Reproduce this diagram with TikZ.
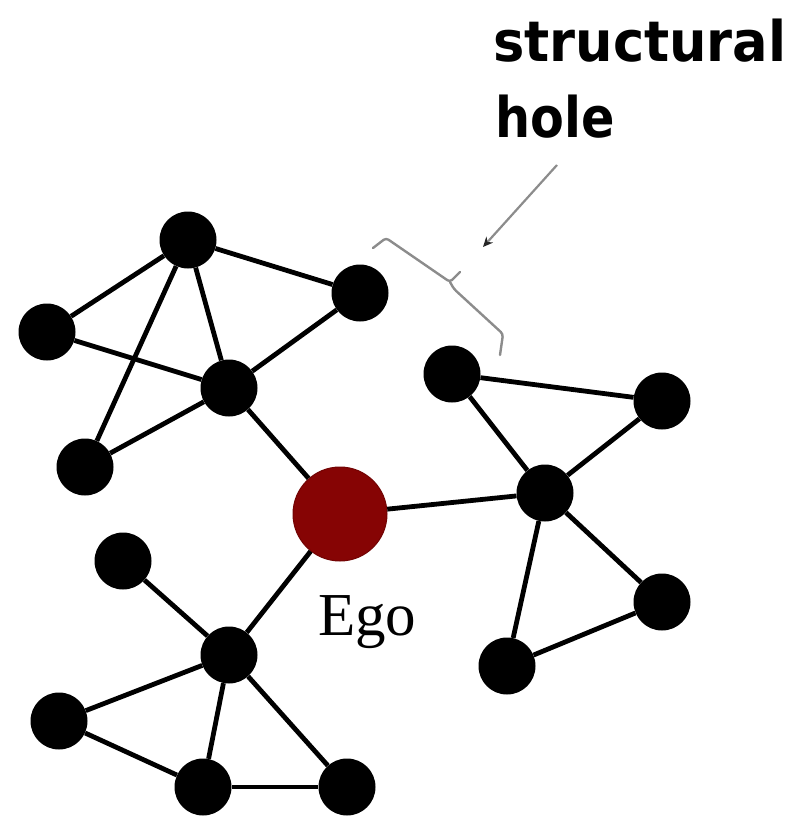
\documentclass[tikz,border=0pt]{standalone}
\usepackage{fontspec}
\setmainfont{Liberation Serif}
\newfontfamily\labelfont{DejaVu Sans}
\usetikzlibrary{arrows.meta}
\definecolor{egored}{RGB}{134,4,4}
\definecolor{bracegray}{RGB}{140,140,140}
\tikzset{
  vtx/.style={circle,fill=black,inner sep=0pt,minimum size=57pt},
  egovtx/.style={circle,fill=egored,draw=egored!85!black,line width=1pt,inner sep=0pt,minimum size=94pt},
  link/.style={line width=4.8pt,black},
  bracestyle/.style={draw=bracegray,line width=2.4pt,rounded corners=3pt,line cap=round},
  pointer/.style={draw=bracegray,line width=2.2pt,-{Stealth[length=10pt,width=9pt,color=black!85,fill=black!85]}},
  holefont/.style={font=\labelfont\bfseries\fontsize{56}{56}\selectfont},
}
\begin{document}
\begin{tikzpicture}[x=1pt,y=-1pt]
\useasboundingbox (0,0) rectangle (804,816);
% top cluster
\node[vtx] (A) at (188,240) {};
\node[vtx] (B) at (47,332) {};
\node[vtx] (C) at (360,293) {};
\node[vtx] (D) at (229,388) {};
\node[vtx] (E) at (85,467) {};
% ego
\node[egovtx] (ego) at (340,514) {};
% right cluster
\node[vtx] (F) at (452,374) {};
\node[vtx] (G) at (662,401) {};
\node[vtx] (H) at (545,493) {};
\node[vtx] (I) at (662,602) {};
\node[vtx] (J) at (507,666) {};
% bottom cluster
\node[vtx] (K) at (123,561) {};
\node[vtx] (L) at (229,655) {};
\node[vtx] (M) at (59,721) {};
\node[vtx] (N) at (203,787) {};
\node[vtx] (O) at (347,787) {};
% edges
\draw[link] (A) -- (B);
\draw[link] (A) -- (C);
\draw[link] (A) -- (D);
\draw[link] (A) -- (E);
\draw[link] (B) -- (D);
\draw[link] (C) -- (D);
\draw[link] (D) -- (E);
\draw[link] (D) -- (ego);
\draw[link] (ego) -- (H);
\draw[link] (F) -- (G);
\draw[link] (F) -- (H);
\draw[link] (G) -- (H);
\draw[link] (H) -- (I);
\draw[link] (H) -- (J);
\draw[link] (I) -- (J);
\draw[link] (ego) -- (L);
\draw[link] (K) -- (L);
\draw[link] (L) -- (M);
\draw[link] (L) -- (N);
\draw[link] (L) -- (O);
\draw[link] (M) -- (N);
\draw[link] (N) -- (O);
% labels
\node[anchor=base west,inner sep=0pt,font=\fontsize{61}{61}\selectfont] (egolabel) at (318,635) {Ego};
\node[anchor=base west,inner sep=0pt,holefont] (sline) at (493,62) {\scalebox{0.94}[1]{structural}};
\node[anchor=base west,inner sep=0pt,holefont] (hline) at (495,137) {\scalebox{0.88}[1]{hole}};
% brace and arrow
\coordinate (b1) at (373,248);
\coordinate (b2) at (386,238);
\coordinate (b3) at (450,282);
\coordinate (b4) at (460,272);
\coordinate (b5) at (454,289);
\coordinate (b6) at (503,334);
\coordinate (b7) at (500,355);
\draw[bracestyle] (b1) -- (b2) -- (b3) -- (b4);
\draw[bracestyle] (b3) -- (b5) -- (b6) -- (b7);
\coordinate (arrowtail) at (557,165);
\coordinate (arrowhead) at (483,247);
\draw[pointer] (arrowtail) -- (arrowhead);
\end{tikzpicture}
\end{document}
